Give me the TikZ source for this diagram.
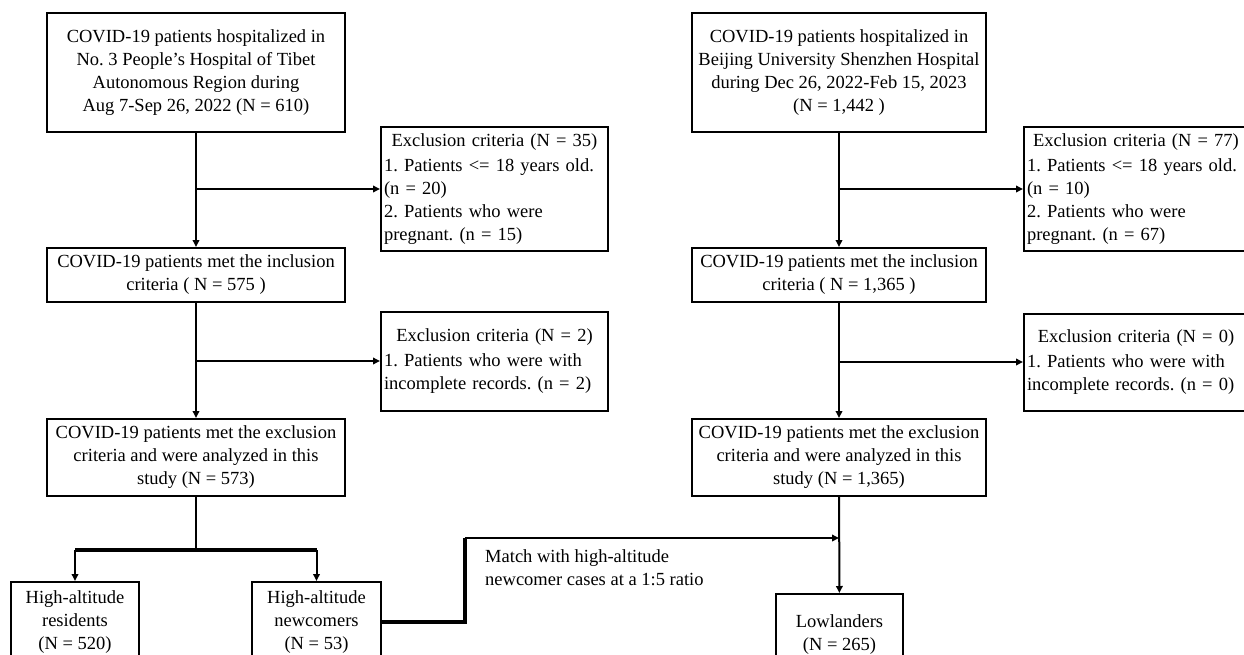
\documentclass[tikz,border=0pt]{standalone}
\usepackage{fontspec}
\setmainfont{Liberation Serif}
\usetikzlibrary{arrows.meta,positioning}

\begin{document}
\begin{tikzpicture}[
  x=1pt, y=-1pt,
  font=\fontsize{18.5}{23}\selectfont\frenchspacing,
  box/.style={draw, line width=2pt, align=center, inner sep=3pt},
  exbox/.style={box, align=left, inner xsep=3pt},
  arr/.style={-{Triangle[length=7pt, width=6.5pt]}, line width=2pt},
  ln/.style={line width=2pt},
  thk/.style={line width=4pt},
]
\useasboundingbox (0,0) rectangle (1244,655);
% left cohort
\node[box, minimum width=298pt, minimum height=119pt] (tl) at (196, 72.5) {COVID-19 patients hospitalized in\\No. 3 People's Hospital of Tibet\\Autonomous Region during\\Aug 7-Sep 26, 2022 (N = 610)};
\node[exbox, text width=221pt, minimum height=124pt] (exA) at (494.5, 189) {{\centering Exclusion criteria (N = 35)\par}\vspace{2pt}1. Patients <= 18 years old.\\(n = 20)\\2. Patients who were\\pregnant. (n = 15)};
\node[box, minimum width=298pt, minimum height=54pt] (inL) at (196, 275) {COVID-19 patients met the inclusion\\criteria ( N = 575 )};
\node[exbox, text width=221pt, minimum height=99pt] (exB) at (494.5, 361) {{\centering Exclusion criteria (N = 2)\par}\vspace{2pt}1. Patients who were with\\incomplete records. (n = 2)};
\node[box, minimum width=298pt, minimum height=77pt] (anL) at (196, 457.5) {COVID-19 patients met the exclusion\\criteria and were analyzed in this\\study (N = 573)};
% right cohort
\node[box, minimum width=294pt, minimum height=119pt] (tr) at (839, 72.5) {COVID-19 patients hospitalized in\\Beijing University Shenzhen Hospital\\during Dec 26, 2022-Feb 15, 2023\\(N = 1,442 )};
\node[exbox, text width=218pt, minimum height=124pt] (exC) at (1136, 189) {{\centering Exclusion criteria (N = 77)\par}\vspace{2pt}1. Patients <= 18 years old.\\(n = 10)\\2. Patients who were\\pregnant. (n = 67)};
\node[box, minimum width=294pt, minimum height=54pt] (inR) at (839, 275) {COVID-19 patients met the inclusion\\criteria ( N = 1,365 )};
\node[exbox, text width=218pt, minimum height=97pt] (exD) at (1136, 362) {{\centering Exclusion criteria (N = 0)\par}\vspace{2pt}1. Patients who were with\\incomplete records. (n = 0)};
\node[box, minimum width=294pt, minimum height=77pt] (anR) at (839, 457.5) {COVID-19 patients met the exclusion\\criteria and were analyzed in this\\study (N = 1,365)};
% groups
\node[box, minimum width=128pt, minimum height=80pt] (res) at (75, 622) {High-altitude\\residents\\(N = 520)};
\node[box, minimum width=129pt, minimum height=80pt] (new) at (316.5, 622) {High-altitude\\newcomers\\(N = 53)};
\node[box, minimum width=127pt, minimum height=82pt] (low) at (839.5, 635) {Lowlanders\\(N = 265)};
\node[anchor=north west, align=left, inner sep=0pt] (mtxt) at (485, 549) {Match with high-altitude\\newcomer cases at a 1:5 ratio};
\coordinate (split) at (196, 550);
\coordinate (mt) at (465, 538);
\coordinate (mh) at (anR.south |- mt);
% connectors
\draw[arr] (tl) -- (inL);
\draw[arr] (tl.south |- exA) -- (exA);
\draw[arr] (inL) -- (anL);
\draw[arr] (inL.south |- exB) -- (exB);
\draw[arr] (tr) -- (inR);
\draw[arr] (tr.south |- exC) -- (exC);
\draw[arr] (inR) -- (anR);
\draw[arr] (inR.south |- exD) -- (exD);
\draw[ln] (anL) -- (split);
\draw[thk] (res.north |- split) -- (new.north |- split);
\draw[arr] (res.north |- split) -- (res);
\draw[arr] (new.north |- split) -- (new);
\draw[thk] (new.east) -| (mt);
\draw[arr] (mt) -- (mh);
\draw[arr] (anR) -- (low);
\end{tikzpicture}
\end{document}
